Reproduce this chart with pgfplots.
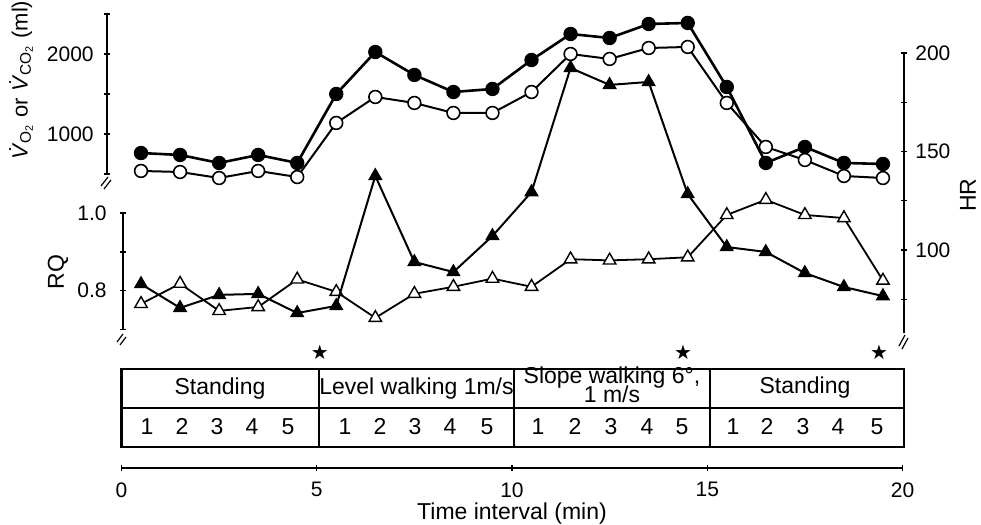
\documentclass[border=0pt]{standalone}
\usepackage{fontspec}
\setmainfont{Liberation Sans}
\newfontfamily\starfont{DejaVu Sans}
\usepackage{pgfplots}
\usepackage{pgfplotstable}
\pgfplotsset{compat=1.18}

\pgfplotstableread{
x vo vco
0.5 762 538
1.5 738 525
2.5 638 450
3.5 738 538
4.5 638 462
5.5 1500 1138
6.5 2025 1463
7.5 1738 1388
8.5 1525 1263
9.5 1563 1263
10.5 1925 1525
11.5 2250 2000
12.5 2200 1938
13.5 2375 2075
14.5 2388 2088
15.5 1588 1388
16.5 638 838
17.5 838 675
18.5 638 475
19.5 625 450
}\gas

\pgfplotstableread{
x hr rq
0.5 82.7 0.766
1.5 70.6 0.818
2.5 77.2 0.748
3.5 77.7 0.758
4.5 68.0 0.829
5.5 71.6 0.797
6.5 137.6 0.730
7.5 93.9 0.792
8.5 88.8 0.810
9.5 107.1 0.831
10.5 129.4 0.810
11.5 192.4 0.881
12.5 183.8 0.878
13.5 185.3 0.881
14.5 128.4 0.886
15.5 101.5 0.995
16.5 99.0 1.034
17.5 88.3 0.995
18.5 81.2 0.987
19.5 76.6 0.826
}\hrrq

\pgfplotstableread{
x y
5.08 0.967
14.38 0.967
19.40 0.967
}\stars

\newcommand\tickfont{\fontsize{10.5}{12}\selectfont}
\newcommand\tl[1]{\mbox{\tickfont #1}}
\pgfplotsset{
  base/.style={
    scale only axis, clip=false, anchor=south west,
    tick align=inside, major tick length=3.3pt,
    tick style={line width=0.7pt, black},
    axis line style={line width=0.75pt},
    tick label style={font=\tickfont},
  },
}

\begin{document}
\begin{tikzpicture}[x=0.5pt,y=0.5pt]
\useasboundingbox (0,0) rectangle (981,525);

% VO2 / VCO2 axis
\begin{axis}[base,
  at={(53.5pt,175.5pt)}, width=397.75pt, height=80pt,
  xmin=-0.371, xmax=20, ymin=500, ymax=2500,
  axis x line=none, axis y line=left, y axis line style={-},
  xtick=\empty,
  ytick={500,1000,1500,2000,2500}, yticklabels={,\tl{1000},,\tl{2000},},
  yticklabel style={xshift=-1.5pt},
]
\addplot[black, line width=1.0pt, mark=*, mark size=3.2pt,
  mark options={fill=white, line width=0.8pt}] table[x=x,y=vco] {\gas};
\addplot[black, line width=1.3pt, mark=*, mark size=3.3pt,
  mark options={fill=black, line width=0.6pt}] table[x=x,y=vo] {\gas};
\end{axis}

% RQ axis
\begin{axis}[base,
  at={(61.5pt,97.75pt)}, width=389.75pt, height=58.25pt,
  xmin=0.038, xmax=20, ymin=0.7, ymax=1.0,
  axis x line=none, axis y line=left, y axis line style={-},
  xtick=\empty,
  ytick={0.7,0.8,0.9,1.0}, yticklabels={,\tl{0.8},,\tl{1.0}},
  yticklabel style={xshift=-3pt},
]
\addplot[black, line width=0.9pt, mark=triangle*, mark size=3.6pt,
  mark options={fill=white, line width=0.7pt}] table[x=x,y=rq] {\hrrq};
\end{axis}

% HR axis
\begin{axis}[base,
  at={(60.75pt,96.15pt)}, width=391.25pt, height=139.85pt,
  xmin=0, xmax=20.04, ymin=58, ymax=200,
  axis x line=none, axis y line=right, y axis line style={-},
  xtick=\empty,
  ytick={75,100,125,150,175,200}, yticklabels={,\tl{100},,\tl{150},,\tl{200}},
  yticklabel style={xshift=0.5pt},
]
\addplot[black, line width=1.0pt, mark=triangle*, mark size=3.6pt,
  mark options={fill=black, line width=0.6pt}] table[x=x,y=hr] {\hrrq};
\end{axis}

% time axis
\begin{axis}[base,
  at={(60.75pt,28.5pt)}, width=390.5pt, height=60pt,
  xmin=0, xmax=20, ymin=0, ymax=1,
  axis y line=none, axis x line=bottom, x axis line style={-},
  ytick=\empty,
  xtick={0,5,10,15,20}, xticklabels={\tl{0},\tl{5},\tl{10},\tl{15},\tl{20}},
  xticklabel style={yshift=-2pt},
]
\addplot[only marks, mark=text, text mark={\fontsize{10}{10}\selectfont\starfont ★}] table[x=x,y=y] {\stars};
\end{axis}

% axis breaks
\begin{scope}[line width=0.6pt]
\draw (101,339) -- (108,348);
\draw (104,336) -- (111,345);
\draw (117,183) -- (123,191);
\draw (120,180) -- (126,188);
\draw (899,179) -- (905,190);
\draw (902,176) -- (908,187);
\end{scope}

% axis labels
\node[rotate=90, font=\fontsize{11}{12}\selectfont] at (21,445)
  {\textit{\.{V}}\textsubscript{O\textsubscript{2}} or \textit{\.{V}}\textsubscript{CO\textsubscript{2}} (ml)};
\node[rotate=90, font=\fontsize{11.5}{12}\selectfont] at (58,253) {RQ};
\node[rotate=90, inner sep=0pt, font=\fontsize{11.5}{12}\selectfont] at (968,330) {HR};
\node[font=\fontsize{11.5}{12}\selectfont] at (512,11) {Time interval (min)};

% table
\begin{scope}[line width=1.2pt]
\draw (121.5,156) rectangle (904,78);
\draw (121.5,117) -- (904,117);
\draw (319,156) -- (319,78);
\draw (514,156) -- (514,78);
\draw (710,156) -- (710,78);
\end{scope}
\begin{scope}[font=\fontsize{11.5}{12}\selectfont, every node/.style={anchor=base, inner sep=0pt}]
\node at (220,130) {Standing};
\node at (416.5,130) {Level walking 1m/s};
\node at (612,141) {Slope walking 6°,};
\node at (612,122.5) {1 m/s};
\node at (805,131) {Standing};
\foreach \xx/\n in {147/1,182/2,217/3,252/4,288/5,
                    345/1,380/2,415/3,450/4,487/5,
                    538/1,575/2,611/3,647/4,682/5,
                    733/1,767/2,803/3,838/4,877/5}
  \node at (\xx,90) {\n};
\end{scope}
\end{tikzpicture}
\end{document}
